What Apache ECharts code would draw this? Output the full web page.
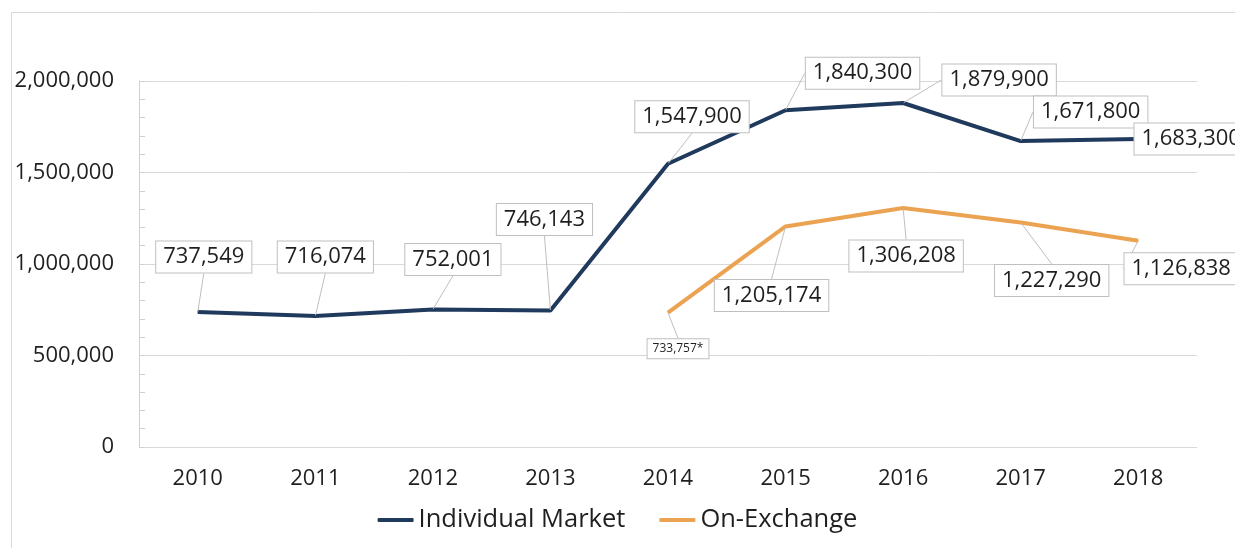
<!DOCTYPE html>
<html>
<head>
<meta charset="utf-8">
<script src="https://cdn.jsdelivr.net/npm/echarts@6/dist/echarts.min.js"></script>
<style>
html,body{margin:0;padding:0;background:#fff;}
#chart{width:1235px;height:548px;}
</style>
</head>
<body>
<div id="chart"></div>
<script>
const years = ['2010','2011','2012','2013','2014','2015','2016','2017','2018'];
const individualMarket = [737549, 716074, 752001, 746143, 1547900, 1840300, 1879900, 1671800, 1683300];
const onExchange = [null, null, null, null, 733757, 1205174, 1306208, 1227290, 1126838];
const footnoteYears = ['2014']; // On-Exchange value marked with *
const yTicks = [0, 500000, 1000000, 1500000, 2000000];

// label box offsets from their points (layout only)
const imLabelOffsets = [[6,-55],[10,-59],[20,-50],[-6,-91],[24,-47],[77,-37],[96,-23],[70,-29],[53,0]];
const oeLabelOffsets = [[0,0],[0,0],[0,0],[0,0],[10,36],[-14,69],[3,48],[31,58],[43,28]];

const FONT = '"Open Sans", "Noto Sans", sans-serif';
const TEXT = '#1f1f1f';
const fmt = v => Number(v).toLocaleString('en-US');

const labelBox = {
  show: true,
  position: 'inside',
  fontFamily: FONT,
  fontSize: 22,
  color: TEXT,
  backgroundColor: '#ffffff',
  borderColor: '#bfbfbf',
  borderWidth: 1,
  padding: [5, 7, 4, 7]
};

const chart = echarts.init(document.getElementById('chart'), null, {renderer: 'canvas'});
chart.setOption({
  animation: false,
  backgroundColor: '#ffffff',
  textStyle: {fontFamily: FONT},
  graphic: [{
    type: 'rect',
    shape: {x: 11.5, y: 12.5, width: 1300, height: 700},
    style: {fill: 'none', stroke: '#d9d9d9', lineWidth: 1},
    silent: true,
    z: -1
  }],
  grid: {left: 139, right: 38, top: 81, bottom: 101, containLabel: false},
  legend: {
    bottom: 10,
    left: 'center',
    icon: 'roundRect',
    itemWidth: 36,
    itemHeight: 4,
    itemGap: 34,
    textStyle: {fontFamily: FONT, fontSize: 25.5, color: TEXT},
    data: ['Individual Market', 'On-Exchange']
  },
  xAxis: {
    type: 'category',
    data: years,
    boundaryGap: true,
    axisLine: {show: false},
    axisTick: {show: false},
    axisLabel: {fontFamily: FONT, fontSize: 22, color: TEXT, margin: 21}
  },
  yAxis: {
    type: 'value',
    min: yTicks[0],
    max: yTicks[yTicks.length - 1],
    interval: yTicks[1] - yTicks[0],
    axisLine: {show: true, lineStyle: {color: '#d0d0d0', width: 1}},
    axisTick: {show: true, inside: true, length: 6, lineStyle: {color: '#d0d0d0'}},
    minorTick: {show: true, splitNumber: 5, length: 6, lineStyle: {color: '#d0d0d0'}},
    splitLine: {show: true, lineStyle: {color: '#d9d9d9', width: 1}},
    axisLabel: {fontFamily: FONT, fontSize: 22, color: TEXT, margin: 25, formatter: fmt}
  },
  series: [
    {
      name: 'Individual Market',
      type: 'line',
      data: individualMarket,
      symbol: 'circle',
      symbolSize: 1,
      showSymbol: true,
      itemStyle: {color: '#1f3a5c'},
      lineStyle: {color: '#1f3a5c', width: 4},
      label: Object.assign({}, labelBox, {formatter: p => fmt(p.value)}),
      labelLine: {show: true, lineStyle: {color: '#bfbfbf', width: 1}},
      labelLayout: p => ({dx: imLabelOffsets[p.dataIndex][0], dy: imLabelOffsets[p.dataIndex][1]}),
      z: 3
    },
    {
      name: 'On-Exchange',
      type: 'line',
      data: onExchange.map((v, i) => footnoteYears.includes(years[i])
        ? {value: v, label: {fontSize: 12, padding: [4, 5, 3, 5]}}
        : (v === null ? '-' : v)),
      symbol: 'circle',
      symbolSize: 1,
      showSymbol: true,
      itemStyle: {color: '#eba352'},
      lineStyle: {color: '#eba352', width: 4},
      label: Object.assign({}, labelBox, {
        formatter: p => fmt(p.value) + (footnoteYears.includes(p.name) ? '*' : '')
      }),
      labelLine: {show: true, lineStyle: {color: '#bfbfbf', width: 1}},
      labelLayout: p => ({dx: oeLabelOffsets[p.dataIndex][0], dy: oeLabelOffsets[p.dataIndex][1]}),
      z: 2
    }
  ]
});
</script>
</body>
</html>
